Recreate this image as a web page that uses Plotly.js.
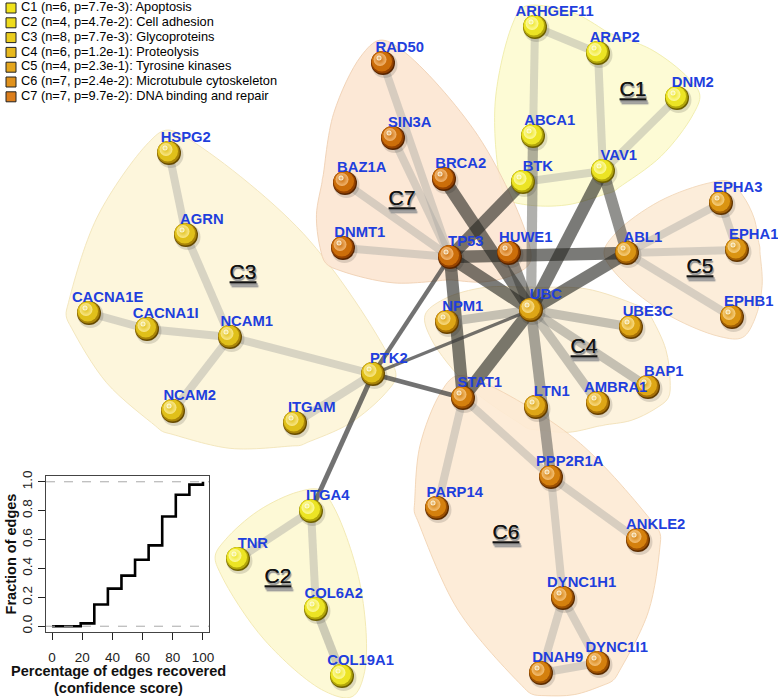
<!DOCTYPE html>
<html><head><meta charset="utf-8">
<script src="https://cdn.plot.ly/plotly-3.0.1.min.js"></script>
<style>html,body{margin:0;padding:0;background:#fff}#chart{width:778px;height:698px}</style>
</head><body><div id="chart"></div>
<script>
// ---------- DATA ----------
const nodeNames = ["ARHGEF11","ARAP2","DNM2","ABCA1","BTK","VAV1",
  "ITGA4","TNR","COL6A2","COL19A1",
  "HSPG2","AGRN","CACNA1E","CACNA1I","NCAM1","NCAM2","ITGAM","PTK2",
  "UBC","NPM1","UBE3C","BAP1","AMBRA1","LTN1",
  "ABL1","EPHA3","EPHA1","EPHB1",
  "STAT1","PPP2R1A","PARP14","ANKLE2","DYNC1H1","DNAH9","DYNC1I1",
  "RAD50","SIN3A","BAZ1A","BRCA2","DNMT1","TP53","HUWE1"];
const nodeX = [535,598,677,533,523,603,
  311,238,316,342,
  169,186,89,147,230,173,295,373,
  531,447,631,648,598,536,
  627,721,737,732,
  463,551,437,638,563,541,598,
  383,393,345,444,343,450,509];
const nodeY = [27,53,98,136,182,171,
  511,559,609,676,
  153,235,313,329,337,411,423,374,
  310,322,327,387,403,407,
  253,203,250,317,
  398,477,508,540,598,673,663,
  63,138,183,179,248,257,253];
const nodeCluster = [1,1,1,1,1,1, 2,2,2,2, 3,3,3,3,3,3,3,3, 4,4,4,4,4,4, 5,5,5,5, 6,6,6,6,6,6,6, 7,7,7,7,7,7,7];

const edgeFrom = ["ARHGEF11","ARHGEF11","ARAP2","DNM2","BTK","ABCA1",
  "BTK","BRCA2","TP53","VAV1","VAV1","ABL1","HUWE1","TP53","UBC","TP53",
  "UBC","UBC","UBC","UBC","UBC",
  "TP53","UBC","PTK2","PTK2",
  "RAD50","SIN3A","BAZ1A","DNMT1",
  "ABL1","ABL1","ABL1","EPHA3",
  "STAT1","STAT1","PPP2R1A","PPP2R1A","DYNC1H1","DYNC1H1","DNAH9",
  "HSPG2","AGRN","CACNA1E","CACNA1I","NCAM1","NCAM1","PTK2",
  "ITGA4","ITGA4","COL6A2"];
const edgeTo = ["ARAP2","ABCA1","VAV1","VAV1","VAV1","UBC",
  "TP53","UBC","ABL1","UBC","ABL1","UBC","UBC","UBC","STAT1","STAT1",
  "PPP2R1A","NPM1","UBE3C","BAP1","AMBRA1",
  "PTK2","PTK2","STAT1","ITGA4",
  "TP53","TP53","TP53","TP53",
  "EPHA3","EPHA1","EPHB1","EPHA1",
  "PARP14","PPP2R1A","ANKLE2","DYNC1H1","DNAH9","DYNC1I1","DYNC1I1",
  "AGRN","NCAM1","CACNA1I","NCAM1","NCAM2","PTK2","ITGAM",
  "TNR","COL6A2","COL19A1"];
const edgeWeight = [1,1,1,1,1,2,
  3,3,3,3,2.6,3,2.6,3,3,3,
  2.2,1.5,1.5,1.5,1.5,
  0.6,0.45,0.7,0.7,
  1,1,1,1,
  1,1,1,1,
  1,1,1,1,1,1,1,
  1,1,1,1,1,1,1,
  1,1,1.3];

const clusterNames = ["C1","C2","C3","C4","C5","C6","C7"];
const clusterSize = [6,4,8,6,4,7,7];
const clusterP = ["7.7e-3","4.7e-2","7.7e-3","1.2e-1","2.3e-1","2.4e-2","9.7e-2"];
const clusterTerm = ["Apoptosis","Cell adhesion","Glycoproteins","Proteolysis","Tyrosine kinases","Microtubule cytoskeleton","DNA binding and repair"];

const recoveredPct = [0,19,28,37,46,55,64,73,82,91,100];
const fractionEdges = [0,0.02,0.15,0.26,0.35,0.46,0.56,0.76,0.91,0.98,1.0];
const insetXTicks = [0,20,40,60,80,100];
const insetYTicks = [0,0.2,0.4,0.6,0.8,1.0];
const insetYTickText = ["0.0","0.2","0.4","0.6","0.8","1.0"];
const insetXTitle = ["Percentage of edges recovered","(confidence score)"];
const insetYTitle = "Fraction of edges";

// ---------- STYLES ----------
const legendColors = ["#f1e31b","#eedb1c","#ebcd1d","#e8b91d","#e4a61d","#e0921d","#db7e1d"];
const sphereMid  = [[236,228,36],[236,228,36],[224,192,26],[222,166,22],[218,148,18],[212,128,14],[204,110,10]];
const sphereRim  = [[178,166,10],[178,166,10],[168,132,8],[166,112,6],[162,96,4],[156,80,2],[148,66,0]];
const sphereDark = ["#6e6000","#6e6000","#664a00","#643e00","#603400","#5c2c00","#562400"];
const sphereLight= [[255,252,170],[255,252,170],[252,236,150],[252,226,145],[250,214,140],[248,200,130],[246,190,125]];
const hullFill = ["rgba(253,251,208,0.9)","rgba(253,248,210,0.9)","rgba(253,245,216,0.9)",
  "rgba(253,242,218,0.9)","rgba(252,235,214,0.9)","rgba(253,234,212,0.9)","rgba(252,230,210,0.9)"];
const hullLine = ["rgba(240,236,170,0.9)","rgba(242,232,175,0.9)","rgba(242,228,185,0.9)",
  "rgba(242,225,185,0.9)","rgba(242,215,185,0.9)","rgba(242,212,180,0.9)","rgba(240,208,180,0.9)"];
const clusterLabelPos = {C1:[633,91],C2:[278,578],C3:[243,274],C4:[584,348],C5:[700,268],C6:[506,534],C7:[402,200]};

const idx = {}; nodeNames.forEach((n,i)=>idx[n]=i);
const traces = [];
const rgb=(c,a)=>`rgba(${c[0]},${c[1]},${c[2]},${a})`;

// hulls: smooth blob around each cluster's convex hull
function convexHull(pts){
  pts = pts.slice().sort((a,b)=>a[0]-b[0]||a[1]-b[1]);
  const cross=(o,a,b)=>(a[0]-o[0])*(b[1]-o[1])-(a[1]-o[1])*(b[0]-o[0]);
  const lower=[],upper=[];
  for(const p of pts){while(lower.length>=2&&cross(lower[lower.length-2],lower[lower.length-1],p)<=0)lower.pop();lower.push(p);}
  for(let i=pts.length-1;i>=0;i--){const p=pts[i];while(upper.length>=2&&cross(upper[upper.length-2],upper[upper.length-1],p)<=0)upper.pop();upper.push(p);}
  return lower.slice(0,-1).concat(upper.slice(0,-1));
}
const hullPad = 23;
for(let c=1;c<=7;c++){
  const pts=[];
  nodeNames.forEach((n,i)=>{ if(nodeCluster[i]===c) pts.push([nodeX[i],nodeY[i]]); });
  const h=convexHull(pts), m=h.length;
  const cx=h.reduce((s,p)=>s+p[0],0)/m, cy=h.reduce((s,p)=>s+p[1],0)/m;
  const normal=(a,b)=>{let dx=b[0]-a[0],dy=b[1]-a[1],L=Math.hypot(dx,dy)||1;let nx=dy/L,ny=-dx/L;
    const mx=(a[0]+b[0])/2-cx,my=(a[1]+b[1])/2-cy; if(nx*mx+ny*my<0){nx=-nx;ny=-ny;} return [nx,ny,L];};
  const out=[];
  for(let i=0;i<m;i++){
    const p=h[(i-1+m)%m], v=h[i], q=h[(i+1)%m];
    const n1=normal(p,v), n2=normal(v,q);
    let bx=n1[0]+n2[0], by=n1[1]+n2[1]; const bl=Math.hypot(bx,by)||1; bx/=bl; by/=bl;
    out.push([v[0]+hullPad*n1[0], v[1]+hullPad*n1[1]]);
    out.push([v[0]+hullPad*bx, v[1]+hullPad*by]);
    out.push([v[0]+hullPad*n2[0], v[1]+hullPad*n2[1]]);
    const bulge=hullPad+0.07*n2[2];
    out.push([(v[0]+q[0])/2+bulge*n2[0], (v[1]+q[1])/2+bulge*n2[1]]);
  }
  out.push(out[0]);
  traces.push({type:'scatter',mode:'lines',x:out.map(p=>p[0]),y:out.map(p=>p[1]),fill:'toself',
    fillcolor:hullFill[c-1],line:{color:hullLine[c-1],width:1,shape:'spline',smoothing:1},hoverinfo:'skip',showlegend:false});
}

// edges
function edgeStyle(w){
  if(w<1) return {width:w*7, color:'rgba(60,60,60,0.72)'};
  const g=Math.round(165-(w-1)*62);
  const a=(0.42+(w-1)*0.1).toFixed(2);
  return {width:8+(w-1)*2.2, color:`rgba(${g},${g},${g-5},${a})`};
}
edgeFrom.forEach((f,e)=>{
  const a=idx[f], b=idx[edgeTo[e]];
  traces.push({type:'scatter',mode:'lines',x:[nodeX[a],nodeX[b]],y:[nodeY[a],nodeY[b]],
    line:edgeStyle(edgeWeight[e]),hoverinfo:'skip',showlegend:false});
});

// nodes (spheres): dark base, rim, body, soft highlight
const sphereLayer=(dx,dy,size,colorFn,extra)=>traces.push(Object.assign({type:'scatter',mode:'markers',
  x:nodeX.map(v=>v+dx),y:nodeY.map(v=>v+dy),
  marker:Object.assign({size:size,color:nodeCluster.map(c=>colorFn(c-1)),line:{width:0}},extra||{}),
  hoverinfo:'skip',showlegend:false}));
sphereLayer(1.5,2,26,()=> 'rgba(0,0,0,0.13)');
sphereLayer(0,0,24,i=>sphereDark[i]);
sphereLayer(-0.6,-0.8,22.6,i=>rgb(sphereRim[i],1));
sphereLayer(-1.2,-1.6,20.4,i=>rgb(sphereMid[i],1));
traces.push({type:'scatter',mode:'markers',x:nodeX.map(v=>v-3),y:nodeY.map(v=>v-3.5),
  marker:{size:13,color:nodeCluster.map(c=>rgb(sphereLight[c-1],0.9)),
    gradient:{type:'radial',color:nodeCluster.map(c=>rgb(sphereLight[c-1],0))},line:{width:0}},
  hoverinfo:'skip',showlegend:false});
traces.push({type:'scatter',mode:'markers',x:nodeX.map(v=>v-4),y:nodeY.map(v=>v-5),
  marker:{size:5,color:'rgba(255,255,240,0.95)',
    gradient:{type:'radial',color:'rgba(255,255,240,0.2)'},line:{width:0}},
  hoverinfo:'skip',showlegend:false});

// node labels
traces.push({type:'scatter',mode:'text',
  x:nodeX.map((v,i)=>v+12+0.1*nodeNames[i].length*9.5),y:nodeY.map(v=>v-15),
  text:nodeNames,textposition:'middle center',
  textfont:{family:'Liberation Sans, Arial, sans-serif',size:14.8,color:'#1f3fdd',weight:'bold'},
  hoverinfo:'skip',showlegend:false});

// cluster labels
traces.push({type:'scatter',mode:'text',
  x:clusterNames.map(c=>clusterLabelPos[c][0]),y:clusterNames.map(c=>clusterLabelPos[c][1]),
  text:clusterNames,textposition:'middle center',
  textfont:{family:'Liberation Sans, Arial, sans-serif',size:21,color:'#111',lineposition:'under',
    shadow:'1px 2px 1px #999'},
  hoverinfo:'skip',showlegend:false});

// legend
const legY = clusterNames.map((c,i)=>8+i*14.8);
traces.push({type:'scatter',mode:'markers',x:clusterNames.map(()=>11),y:legY,
  marker:{symbol:'square',size:10,color:legendColors,line:{color:'#222',width:1}},hoverinfo:'skip',showlegend:false});
traces.push({type:'scatter',mode:'text',x:clusterNames.map(()=>21),y:legY,
  text:clusterNames.map((c,i)=>`${c} (n=${clusterSize[i]}, p=${clusterP[i]}): ${clusterTerm[i]}`),
  textposition:'middle right',
  textfont:{family:'Liberation Sans, Arial, sans-serif',size:12.8,color:'#000'},hoverinfo:'skip',showlegend:false});

// inset step plot
traces.push({type:'scatter',mode:'lines',x:recoveredPct,y:fractionEdges,xaxis:'x2',yaxis:'y2',
  line:{shape:'hv',color:'#000',width:2.6},hoverinfo:'skip',showlegend:false});

const F='Liberation Sans, Arial, sans-serif';
const layout = {
  width:778,height:698,margin:{l:0,r:0,t:0,b:0},paper_bgcolor:'#fff',plot_bgcolor:'rgba(0,0,0,0)',
  showlegend:false,hovermode:false,
  xaxis:{range:[0,778],visible:false,domain:[0,1],fixedrange:true},
  yaxis:{range:[698,0],visible:false,domain:[0,1],fixedrange:true},
  xaxis2:{domain:[46/778,209/778],anchor:'y2',range:[-4,104],tickvals:insetXTicks,ticks:'outside',ticklen:7,
    tickcolor:'#222',showline:true,mirror:true,linecolor:'#444',linewidth:1.3,showgrid:false,zeroline:false,
    ticklabelstandoff:5,
    tickfont:{family:F,size:13.5,color:'#222'}},
  yaxis2:{domain:[(698-632)/698,(698-476)/698],anchor:'x2',range:[-0.04,1.04],tickvals:insetYTicks,ticktext:insetYTickText,
    ticks:'outside',ticklen:7,tickcolor:'#222',tickangle:-90,showline:true,mirror:true,linecolor:'#444',linewidth:1.3,
    ticklabelstandoff:0,
    showgrid:false,zeroline:false,tickfont:{family:F,size:13.5,color:'#222'},
    title:{text:'<b>'+insetYTitle+'</b>',font:{family:F,size:14.5,color:'#111'},standoff:0}},
  annotations:[
    {xref:'paper',yref:'paper',x:118/778,y:1-671/698,text:'<b>'+insetXTitle[0]+'</b>',showarrow:false,
      xanchor:'center',yanchor:'middle',font:{family:F,size:14.5,color:'#111'}},
    {xref:'paper',yref:'paper',x:118/778,y:1-688/698,text:'<b>'+insetXTitle[1]+'</b>',showarrow:false,
      xanchor:'center',yanchor:'middle',font:{family:F,size:14.5,color:'#111'}}
  ],
  shapes:[
    {type:'line',xref:'x2 domain',yref:'y2',x0:0,x1:1,y0:0,y1:0,line:{color:'#aaa',width:1,dash:'dash'}},
    {type:'line',xref:'x2 domain',yref:'y2',x0:0,x1:1,y0:1,y1:1,line:{color:'#aaa',width:1,dash:'dash'}}
  ]
};
Plotly.newPlot('chart',traces,layout,{staticPlot:true,displayModeBar:false});
</script></body></html>
